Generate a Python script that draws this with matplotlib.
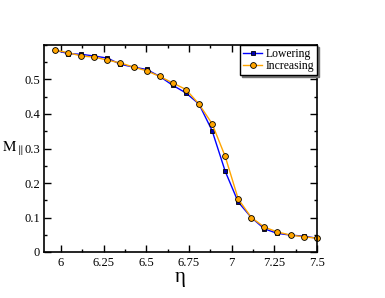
import matplotlib
matplotlib.use("Agg")
import matplotlib.pyplot as plt
from matplotlib.ticker import MultipleLocator

plt.rcParams['font.family'] = ['Liberation Serif', 'DejaVu Serif']
plt.rcParams['mathtext.fontset'] = 'stix'

# values
eta = [5.965, 6.042, 6.118, 6.195, 6.272, 6.348, 6.425, 6.502, 6.578, 6.655, 6.732,
       6.808, 6.885, 6.962, 7.038, 7.115, 7.192, 7.268, 7.345, 7.422, 7.5]
m_lowering = [0.585, 0.575, 0.573, 0.568, 0.562, 0.544, 0.536, 0.529, 0.509, 0.483, 0.461,
              0.429, 0.352, 0.234, 0.145, 0.100, 0.067, 0.054, 0.049, 0.046, 0.040]
m_increasing = [0.585, 0.578, 0.568, 0.565, 0.556, 0.548, 0.536, 0.525, 0.509, 0.490, 0.471,
                0.429, 0.372, 0.277, 0.154, 0.100, 0.072, 0.058, 0.049, 0.044, 0.040]

fig = plt.figure(figsize=(3.85, 2.98), dpi=100)
ax = fig.add_axes([44/385, 1 - 252/298, (317-44)/385, (252-45)/298])

ax.plot(eta, m_lowering, color="#0000ff", lw=1, marker="s", ms=3.3,
        mfc="#0000b0", mec="black", mew=0.6, label="Lowering", clip_on=False)
ax.plot(eta, m_increasing, color="#ffa500", lw=1, marker="o", ms=4.2,
        mfc="#ffa500", mec="black", mew=0.6, label="Increasing", clip_on=False)

ax.set_xlim(5.9, 7.5)
ax.set_ylim(0, 0.6)
ax.xaxis.set_minor_locator(MultipleLocator(0.125))
ax.yaxis.set_minor_locator(MultipleLocator(0.05))
ax.set_xticks([6, 6.25, 6.5, 6.75, 7, 7.25, 7.5])
ax.set_xticklabels(["6", "6.25", "6.5", "6.75", "7", "7.25", "7.5"])
ax.set_yticks([0, 0.1, 0.2, 0.3, 0.4, 0.5])
ax.set_yticklabels(["0", "0.1", "0.2", "0.3", "0.4", "0.5"])
ax.tick_params(which="both", direction="in", top=True, right=True, labelsize=9, width=1)
ax.tick_params(which="major", length=5)
ax.tick_params(which="minor", length=2.5)
ax.tick_params(axis="y", pad=3)
for s in ax.spines.values():
    s.set_linewidth(1.2)

ax.set_xlabel("η", fontsize=15)
ax.xaxis.set_label_coords(0.5, -0.075)
ax.set_ylabel(r"$\mathrm{M}_{\parallel}$", fontsize=11, rotation=0, va="center", ha="right")
ax.yaxis.set_label_coords(-0.076, 0.5)

leg = ax.legend(loc="upper right", borderaxespad=0, fontsize=8.4, frameon=True,
                fancybox=False, shadow={'ox': 1.5, 'oy': -1.5, 'color': '0.45', 'alpha': 1},
                handlelength=1.6, handletextpad=0.3, borderpad=0.25, labelspacing=0.05)
leg.get_frame().set_edgecolor("black")
leg.get_frame().set_linewidth(1)

fig.savefig("out.png", dpi=100)
